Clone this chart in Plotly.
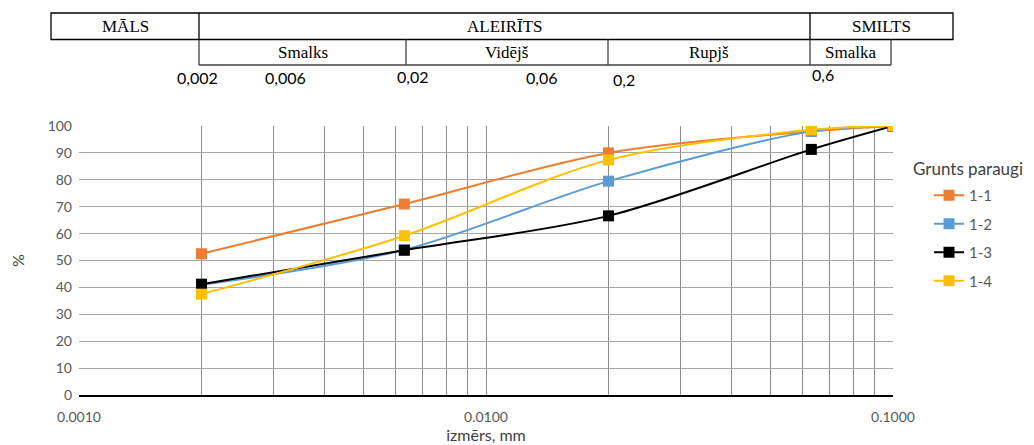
import plotly.graph_objects as go

# ---- data ----
sizes_mm = [0.002, 0.0063, 0.02, 0.063, 0.1]
series_names = ["1-1", "1-2", "1-3", "1-4"]
s_1_1 = [52.5, 71.0, 90.0, 98.0, 100.0]
s_1_2 = [41.0, 54.0, 79.5, 98.0, 100.0]
s_1_3 = [41.2, 53.8, 66.6, 91.3, 100.0]
s_1_4 = [37.5, 59.2, 87.4, 98.6, 100.0]
series_values = [s_1_1, s_1_2, s_1_3, s_1_4]
series_colors = ["#ED7D31", "#5B9BD5", "#000000", "#FFC000"]
legend_title = "Grunts paraugi"

x_tickvals = [0.001, 0.002, 0.003, 0.004, 0.005, 0.006, 0.007, 0.008, 0.009,
              0.01, 0.02, 0.03, 0.04, 0.05, 0.06, 0.07, 0.08, 0.09, 0.1]
x_ticktext = ["0.0010", "", "", "", "", "", "", "", "",
              "0.0100", "", "", "", "", "", "", "", "", "0.1000"]

# classification table texts
row1_labels = ["MĀLS", "ALEIRĪTS", "SMILTS"]
row2_labels = ["Smalks", "Vidējš", "Rupjš", "Smalka"]
bound_labels = ["0,002", "0,006", "0,02", "0,06", "0,2", "0,6"]

# page body has an 8px margin; lay out in screenshot pixel coordinates
OFF = 8
W, H = 1034, 445
L, R, T, B = 79, 141, 126, 50  # plot area edges in screenshot pixels
PW, PH = W - L - R, H - T - B


def px(x):
    return (x - L) / PW


def py(y):
    return (H - B - y) / PH


fig = go.Figure()
for name, vals, col in zip(series_names, series_values, series_colors):
    fig.add_trace(go.Scatter(
        x=sizes_mm, y=vals, name=name, legendgroup=name,
        mode="lines+markers",
        line=dict(color=col, width=2, shape="spline", smoothing=0.9),
        marker=dict(symbol="square", size=11, color=col),
    ))

shapes = []
line_dark = dict(color="#000000", width=1.3)
line_grey = dict(color="#404040", width=1.3)
r1_top, r1_bot, r2_bot = 13, 39.5, 65
xl, xr = 51, 953
c1, c2 = 199, 810
shapes.append(dict(type="rect", xref="paper", yref="paper",
                   x0=px(xl), x1=px(xr), y0=py(r1_bot), y1=py(r1_top), line=line_dark))
for xv in [c1, c2]:
    shapes.append(dict(type="line", xref="paper", yref="paper",
                       x0=px(xv), x1=px(xv), y0=py(r1_bot), y1=py(r1_top), line=line_dark))
r2_cols = [199, 406, 608, 810, 891]
for xv in r2_cols:
    shapes.append(dict(type="line", xref="paper", yref="paper",
                       x0=px(xv), x1=px(xv), y0=py(r2_bot), y1=py(r1_bot), line=line_grey))
shapes.append(dict(type="line", xref="paper", yref="paper",
                   x0=px(199), x1=px(891), y0=py(r2_bot), y1=py(r2_bot), line=line_grey))

annotations = []
serif = dict(family="Liberation Serif, Times New Roman, serif", size=17, color="#000000")
row1_centers = [(xl + c1) / 2, (c1 + c2) / 2, (c2 + xr) / 2]
for t, cx in zip(row1_labels, row1_centers):
    annotations.append(dict(text=t, x=px(cx), y=py(26.5), xref="paper", yref="paper",
                            showarrow=False, font=serif, xanchor="center", yanchor="middle"))
row2_centers = [(r2_cols[i] + r2_cols[i + 1]) / 2 for i in range(4)]
for t, cx in zip(row2_labels, row2_centers):
    annotations.append(dict(text=t, x=px(cx), y=py(52.5), xref="paper", yref="paper",
                            showarrow=False, font=serif, xanchor="center", yanchor="middle"))
bound_pos = [(197, 77), (285, 77), (412, 76), (541, 77), (624, 80), (823, 75)]
sans_num = dict(family="Lato, Carlito, Calibri, sans-serif", size=16, color="#000000")
for t, (cx, cy) in zip(bound_labels, bound_pos):
    annotations.append(dict(text=t, x=px(cx), y=py(cy), xref="paper", yref="paper",
                            showarrow=False, font=sans_num, xanchor="center", yanchor="middle"))

annotations.append(dict(text=legend_title, x=px(911), y=py(168), xref="paper", yref="paper",
                        showarrow=False, xanchor="left", yanchor="middle",
                        font=dict(family="Lato, Carlito, sans-serif", size=17, color="#404040")))

tick_font = dict(family="Lato, Carlito, Calibri, sans-serif", size=14, color="#595959")

fig.update_layout(
    width=W - OFF, height=H - OFF,
    margin=dict(l=L - OFF, r=R, t=T - OFF, b=B),
    plot_bgcolor="white", paper_bgcolor="white",
    shapes=shapes, annotations=annotations,
    legend=dict(
        font=dict(family="Lato, Carlito, sans-serif", size=15, color="#595959"),
        x=px(929), y=py(179), xanchor="left", yanchor="top",
        tracegroupgap=6, bgcolor="rgba(0,0,0,0)",
    ),
    xaxis=dict(
        type="log", range=[-3, -1], automargin=False,
        tickvals=x_tickvals, ticktext=x_ticktext,
        showgrid=True, gridcolor="#8C8C8C", gridwidth=1,
        showline=True, linecolor="#000000", linewidth=1.5,
        ticks="", tickfont=tick_font, zeroline=False, ticklabelstandoff=8,
        title=dict(text="izmērs, mm", font=dict(family="Lato, Carlito, sans-serif", size=16, color="#404040"), standoff=6),
    ),
    yaxis=dict(
        range=[0, 100], dtick=10, tick0=0, automargin=False,
        showgrid=True, gridcolor="#A6A6A6", gridwidth=1,
        showline=False, zeroline=False,
        ticks="", tickfont=tick_font, ticklabelstandoff=6,
        title=dict(text="%", font=dict(family="Lato, Carlito, sans-serif", size=16, color="#404040"), standoff=22),
    ),
)

fig.write_html("out.html")
